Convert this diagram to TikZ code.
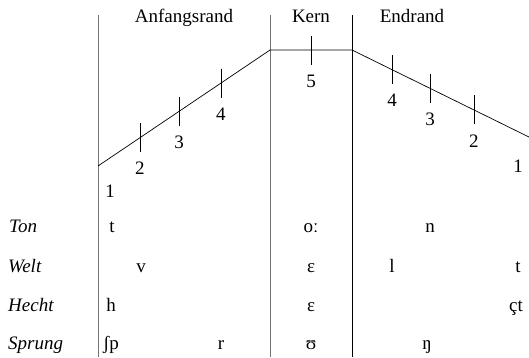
\documentclass[tikz,border=0pt]{standalone}
\usepackage{fontspec}
\setmainfont{Liberation Serif}
\usetikzlibrary{positioning}
\tikzset{
  sepline/.style={draw=black!55,line width=0.9pt},
  kernline/.style={draw=black,line width=0.6pt},
  contour/.style={draw=black,line width=0.7pt},
  tickmark/.style={draw=black,line width=0.7pt},
  headlbl/.style={font=\fontsize{19}{22}\selectfont,anchor=base,inner sep=0pt},
  numlbl/.style={font=\fontsize{19}{22}\selectfont,inner sep=0pt},
  wordlbl/.style={font=\fontsize{19}{22}\selectfont\itshape,anchor=base west,inner sep=0pt},
  segm/.style={font=\fontsize{19}{22}\selectfont,anchor=base,inner sep=0pt},
}

\begin{document}
\begin{tikzpicture}[x=1pt,y=-1pt]
  \useasboundingbox (0,0) rectangle (529,357);
  % column borders
  \coordinate (bA) at (98,15);   \coordinate (bAe) at (98,357);
  \coordinate (bK) at (270,15);  \coordinate (bKe) at (270,357);
  \coordinate (bE) at (352,15);  \coordinate (bEe) at (352,357);
  \draw[sepline] (bA) -- (bAe);
  \draw[sepline] (bK) -- (bKe);
  \draw[kernline] (bE) -- (bEe);
  \node[headlbl] (hA) at (184,22) {Anfangsrand};
  \node[headlbl] (hK) at (311,22) {Kern};
  \node[headlbl] (hE) at (412,22) {Endrand};
  % sonority contour
  \coordinate (cStart) at (98,166);
  \coordinate (cKernL) at (270,50);
  \coordinate (cKernR) at (352,50);
  \coordinate (cEnd) at (529,137);
  \draw[contour] (cStart) -- (cKernL) -- (cKernR) -- (cEnd);
  \path (cStart) -- (cKernL) coordinate[pos=0.244] (tA2) coordinate[pos=0.471] (tA3) coordinate[pos=0.715] (tA4);
  \path (cKernL) -- (cKernR) coordinate[pos=0.5] (tK5);
  \path (cKernR) -- (cEnd) coordinate[pos=0.226] (tE4) coordinate[pos=0.441] (tE3) coordinate[pos=0.689] (tE2);
  \foreach \t in {tA2,tA3,tA4,tK5,tE4,tE3,tE2}
    \draw[tickmark] ([yshift=14.5pt]\t) -- ([yshift=-14.5pt]\t);
  \node[numlbl,anchor=base] (nA1) at (110,197) {1};
  \node[numlbl,below=24.5pt of tA2] (nA2) {2};
  \node[numlbl,below=24.5pt of tA3] (nA3) {3};
  \node[numlbl,below=24.5pt of tA4] (nA4) {4};
  \node[numlbl,below=24.5pt of tK5] (nK5) {5};
  \node[numlbl,below=24.5pt of tE4] (nE4) {4};
  \node[numlbl,below=24.5pt of tE3] (nE3) {3};
  \node[numlbl,below=24.5pt of tE2] (nE2) {2};
  \node[numlbl,anchor=base] (nE1) at (518,172) {1};
  % words
  \node[wordlbl] (wTon) at (9,232) {Ton};
  \node[segm] (sTon1) at (112,232) {t};
  \node[segm] (sTon2) at (311,232) {oː};
  \node[segm] (sTon3) at (430,232) {n};
  \node[wordlbl] (wWelt) at (8,272) {Welt};
  \node[segm] (sWelt1) at (141,272) {v};
  \node[segm] (sWelt2) at (311,272) {ɛ};
  \node[segm] (sWelt3) at (392,272) {l};
  \node[segm] (sWelt4) at (518,272) {t};
  \node[wordlbl] (wHecht) at (8,311) {Hecht};
  \node[segm] (sHecht1) at (111,311) {h};
  \node[segm] (sHecht2) at (311,311) {ɛ};
  \node[segm] (sHecht3) at (516,311) {çt};
  \node[wordlbl] (wSprung) at (8,349) {Sprung};
  \node[segm] (sSprung1) at (111,349) {ʃp};
  \node[segm] (sSprung2) at (221,349) {r};
  \node[segm] (sSprung3) at (311,349) {ʊ};
  \node[segm] (sSprung4) at (427,349) {ŋ};
\end{tikzpicture}
\end{document}
